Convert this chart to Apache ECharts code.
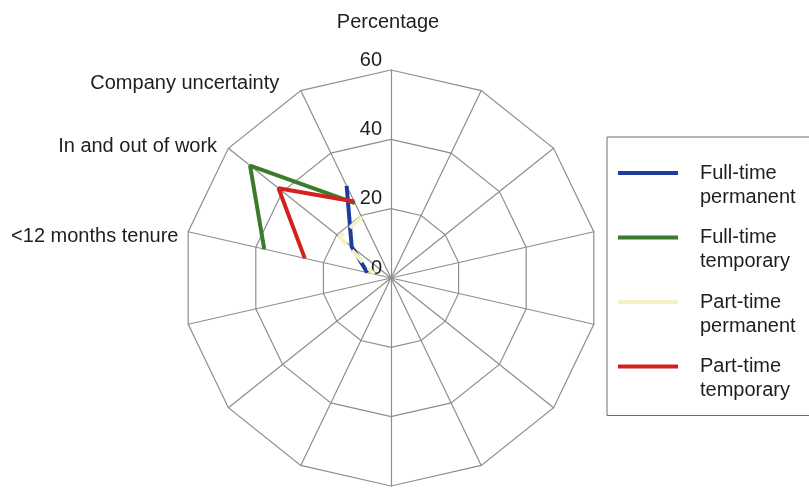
<!DOCTYPE html>
<html>
<head>
<meta charset="utf-8">
<script src="https://cdn.jsdelivr.net/npm/echarts@6/dist/echarts.min.js"></script>
<style>
html,body{margin:0;padding:0;background:#fff;}
#chart{width:809px;height:490px;}
</style>
</head>
<body>
<div id="chart"></div>
<script>
// ---- data ----
var spokeLabels = ['Percentage', 'Company uncertainty', 'In and out of work', '<12 months tenure',
  '', '', '', '', '', '', '', '', '', ''];
var spokeIds = ['s0','s1','s2','s3','s4','s5','s6','s7','s8','s9','s10','s11','s12','s13'];
var seriesNames = ['Full-time permanent', 'Full-time temporary', 'Part-time permanent', 'Part-time temporary'];
// values at spokes 1..3 (Company uncertainty, In and out of work, <12 months tenure)
var fullTimePermanent = [29.5, 14.5, 7];
var fullTimeTemporary = [24, 52, 37.5];
var partTimePermanent = [19.5, 19, 5];
var partTimeTemporary = [24.5, 41.5, 25.5];
var radiusTicks = [0, 20, 40, 60];
var valueSpokes = [1, 2, 3];

var FONT = '"Liberation Sans", Arial, Helvetica, sans-serif';
var TXT = '#1e1e1e';
var GRID = '#8e8e8e';
var FS = 20;

function fullRow(vals) {
  var row = spokeIds.map(function () { return '-'; });
  vals.forEach(function (v, i) { row[valueSpokes[i]] = v; });
  return row;
}

var colors = ['#1d3c9e', '#3c7b2c', '#f6f2c8', '#d3221e'];
var dataSets = [fullTimePermanent, fullTimeTemporary, partTimePermanent, partTimeTemporary];

var richKeys = {'Percentage': 'p', 'Company uncertainty': 'cu', 'In and out of work': 'io', '<12 months tenure': 'tn'};

var chart = echarts.init(document.getElementById('chart'), null, {renderer: 'canvas'});
var option = {
  backgroundColor: '#fff',
  animation: false,
  radar: {
    center: [391, 278],
    radius: 208,
    startAngle: 90,
    splitNumber: 3,
    shape: 'polygon',
    nameGap: 8,
    indicator: spokeLabels.map(function (n) { return {name: n, min: 0, max: 60}; }),
    axisName: {
      color: TXT, fontSize: FS, fontFamily: FONT,
      formatter: function (name) {
        if (!name) return '';
        return '{' + richKeys[name] + '|' + name + '}';
      },
      rich: {
        p: {fontSize: FS, fontFamily: FONT, color: TXT, padding: [0, 6, 30, 0]},
        cu: {fontSize: FS, fontFamily: FONT, color: TXT, padding: [0, 18, 0, 0]},
        io: {fontSize: FS, fontFamily: FONT, color: TXT, padding: [6, 5, 0, 0]},
        tn: {fontSize: FS, fontFamily: FONT, color: TXT, padding: [14, 2, 0, 0]}
      }
    },
    axisLine: {show: true, lineStyle: {color: GRID, width: 1.2}},
    splitLine: {show: true, lineStyle: {color: GRID, width: 1.2}},
    splitArea: {show: false},
    axisTick: {show: false},
    axisLabel: {show: false}
  },
  polar: {center: [391, 278], radius: 208},
  angleAxis: {
    type: 'category', data: spokeIds, startAngle: 90, clockwise: false,
    boundaryGap: false, show: false
  },
  radiusAxis: {
    type: 'value', min: 0, max: 60, interval: 20,
    axisLine: {show: false}, axisTick: {show: false}, splitLine: {show: false},
    axisLabel: {
      show: true, fontSize: FS, fontFamily: FONT, color: TXT, margin: 9,
      verticalAlign: 'bottom',
      formatter: function (v) { return radiusTicks.indexOf(v) >= 0 ? String(v) : ''; }
    }
  },
  legend: {
    orient: 'vertical', left: 607, top: 137,
    icon: 'rect', itemWidth: 60, itemHeight: 4, itemGap: -7.5,
    borderColor: '#6e6e6e', borderWidth: 1,
    padding: [0, 24, 13, 11],
    selectedMode: false,
    textStyle: {fontSize: FS, fontFamily: FONT, color: TXT, lineHeight: 24, padding: [0, 0, 0, 17]},
    formatter: function (n) { return '\n' + n.replace(' ', '\n'); },
    data: seriesNames
  },
  series: seriesNames.map(function (name, i) {
    return {
      name: name, type: 'line', coordinateSystem: 'polar',
      data: fullRow(dataSets[i]),
      symbol: 'none', connectNulls: false,
      lineStyle: {color: colors[i], width: 4, type: i === 2 ? 'dashed' : 'solid'},
      itemStyle: {color: colors[i]},
      z: 5
    };
  })
};
chart.setOption(option);
</script>
</body>
</html>
